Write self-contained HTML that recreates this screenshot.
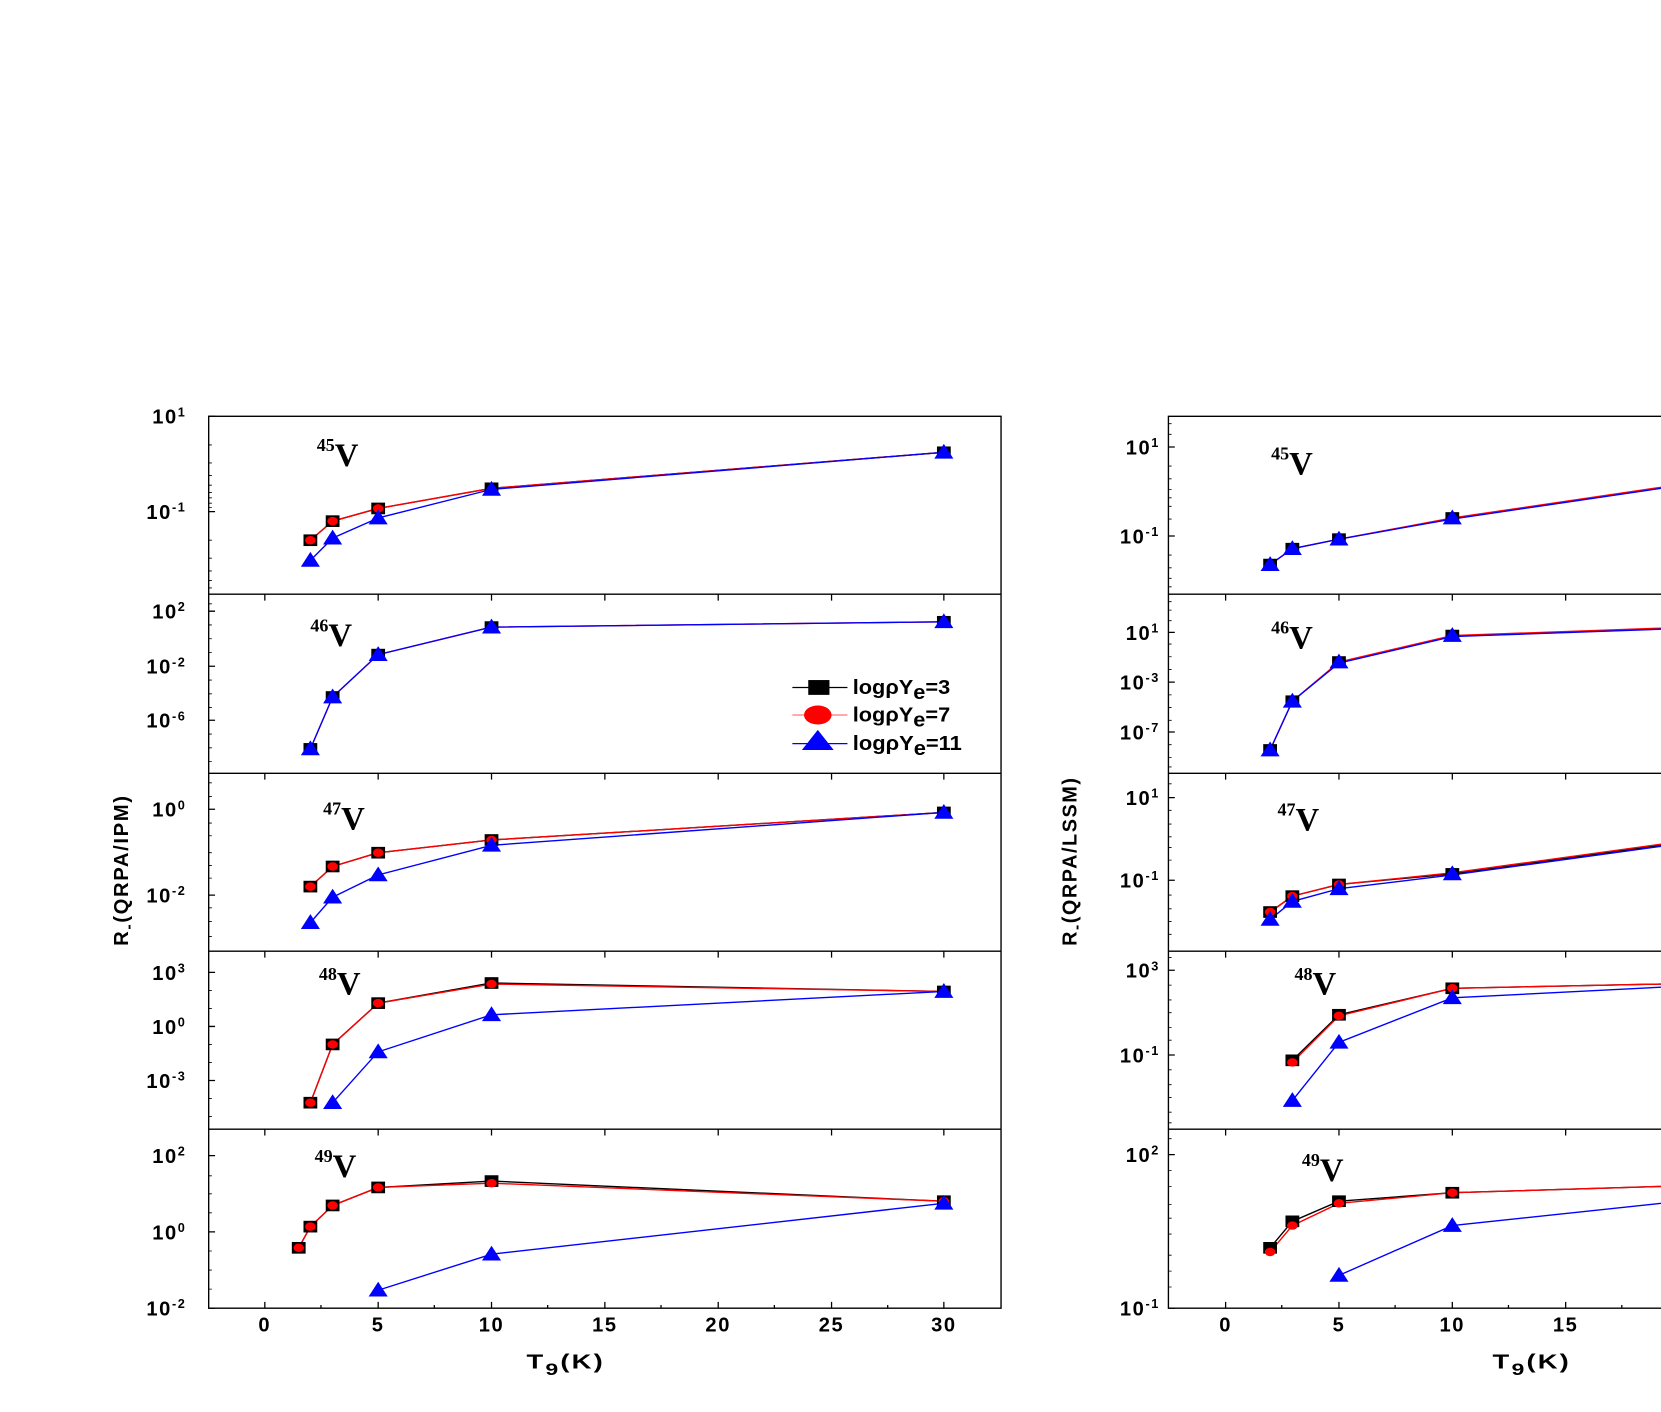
<!DOCTYPE html>
<html><head><meta charset="utf-8"><style>
html,body{margin:0;padding:0;background:#fff;}
svg{display:block}
.tk{font-family:"Liberation Sans",sans-serif;font-weight:bold;font-size:19px;fill:#000;letter-spacing:1.5px}
.nu{font-family:"Liberation Serif",serif;font-weight:bold;fill:#000}
</style></head><body>
<svg width="1661" height="1412" viewBox="0 0 1568 1333" preserveAspectRatio="none" xmlns="http://www.w3.org/2000/svg">
<defs>
<rect id="sq" x="-6.5" y="-5.5" width="13" height="11" fill="#000"/>
<ellipse id="ci" rx="5" ry="4" fill="#f00"/>
<polygon id="tr" points="0,-8 9,6 -9,6" fill="#00f"/>
</defs>
<rect width="1568" height="1333" fill="#fff"/>

<g stroke="#000" stroke-width="1.3" fill="none">
<rect x="197" y="393" width="748" height="842"/>
<line x1="197" y1="561" x2="945" y2="561"/>
<line x1="197" y1="730" x2="945" y2="730"/>
<line x1="197" y1="898" x2="945" y2="898"/>
<line x1="197" y1="1066" x2="945" y2="1066"/>
</g>
<g stroke="#000" stroke-width="1.2">
<path d="M250 1235v-6M357 1235v-6M464 1235v-6M571 1235v-6M678 1235v-6M785 1235v-6M891 1235v-6
M250 561v6M357 561v6M464 561v6M571 561v6M678 561v6M785 561v6M891 561v6
M250 730v6M357 730v6M464 730v6M571 730v6M678 730v6M785 730v6M891 730v6
M250 898v6M357 898v6M464 898v6M571 898v6M678 898v6M785 898v6M891 898v6
M250 1066v6M357 1066v6M464 1066v6M571 1066v6M678 1066v6M785 1066v6M891 1066v6
M303 1235v-3M410 1235v-3M517 1235v-3M624 1235v-3M731 1235v-3M838 1235v-3"/>
<path d="M197 393h6M197 483h6M197 577h6M197 629h6M197 680h6M197 764h6M197 845h6M197 918h6M197 969h6M197 1020h6M197 1091h6M197 1163h6M197 1235h6"/>
<path stroke-width="0.8" d="M197 420h3M197 437h3M197 449h3M197 458h3M197 465h3M197 470h3M197 475h3M197 479h3M197 510h3M197 527h3M197 539h3M197 548h3M197 555h3
M197 570h3M197 590h3M197 603h3M197 616h3M197 642h3M197 655h3M197 668h3M197 693h3M197 706h3M197 719h3
M197 739h3M197 752h3M197 777h3M197 789h3M197 805h3M197 817h3M197 829h3M197 857h3M197 870h3M197 884h3
M197 935h3M197 952h3M197 986h3M197 1003h3M197 1037h3M197 1054h3
M197 1110h3M197 1127h3M197 1145h3M197 1181h3M197 1199h3M197 1217h3"/>
</g>
<g class="tk" text-anchor="end">
<text x="176" y="400">10<tspan dy="-7" font-size="12">1</tspan></text>
<text x="176" y="490">10<tspan dy="-7" font-size="12">-1</tspan></text>
<text x="176" y="584">10<tspan dy="-7" font-size="12">2</tspan></text>
<text x="176" y="636">10<tspan dy="-7" font-size="12">-2</tspan></text>
<text x="176" y="687">10<tspan dy="-7" font-size="12">-6</tspan></text>
<text x="176" y="771">10<tspan dy="-7" font-size="12">0</tspan></text>
<text x="176" y="852">10<tspan dy="-7" font-size="12">-2</tspan></text>
<text x="176" y="925">10<tspan dy="-7" font-size="12">3</tspan></text>
<text x="176" y="976">10<tspan dy="-7" font-size="12">0</tspan></text>
<text x="176" y="1027">10<tspan dy="-7" font-size="12">-3</tspan></text>
<text x="176" y="1098">10<tspan dy="-7" font-size="12">2</tspan></text>
<text x="176" y="1170">10<tspan dy="-7" font-size="12">0</tspan></text>
<text x="176" y="1242">10<tspan dy="-7" font-size="12">-2</tspan></text>
</g>
<g class="tk" text-anchor="middle">
<text x="250" y="1257">0</text><text x="357" y="1257">5</text><text x="464" y="1257">10</text>
<text x="571" y="1257">15</text><text x="678" y="1257">20</text><text x="785" y="1257">25</text><text x="891" y="1257">30</text>
</g>
<text x="497" y="1292" class="tk" font-size="26" textLength="74" lengthAdjust="spacingAndGlyphs">T<tspan font-size="16" dy="6">9</tspan><tspan dy="-6">(K)</tspan></text>
<text transform="translate(121,893) rotate(-90)" class="tk" font-size="25" textLength="143" lengthAdjust="spacingAndGlyphs">R<tspan font-size="15" dy="5">-</tspan><tspan dy="-5">(QRPA/IPM)</tspan></text>

<g class="nu" font-size="31">
<text x="299" y="440"><tspan font-size="17" dy="-14">45</tspan><tspan dy="14">V</tspan></text>
<text x="293" y="610"><tspan font-size="17" dy="-14">46</tspan><tspan dy="14">V</tspan></text>
<text x="305" y="783"><tspan font-size="17" dy="-14">47</tspan><tspan dy="14">V</tspan></text>
<text x="301" y="939"><tspan font-size="17" dy="-14">48</tspan><tspan dy="14">V</tspan></text>
<text x="297" y="1111"><tspan font-size="17" dy="-14">49</tspan><tspan dy="14">V</tspan></text>
</g>

<g fill="none" stroke-width="1.3">
<polyline stroke="#000" points="293,510 314,492 357,480 464,461 891,427"/>
<polyline stroke="#f00" points="293,510 314,492 357,480 464,461 891,427"/>
<polyline stroke="#00f" points="293,529 314,508 357,489 464,462 891,427"/>
<polyline stroke="#f00" points="293,707 314,658 357,618 464,592 891,587"/>
<polyline stroke="#00f" points="293,707 314,658 357,618 464,592 891,587"/>
<polyline stroke="#000" points="293,837 314,818 357,805 464,793 891,767"/>
<polyline stroke="#f00" points="293,837 314,818 357,805 464,793 891,767"/>
<polyline stroke="#00f" points="293,871 314,847 357,826 464,798 891,767"/>
<polyline stroke="#000" points="293,1041 314,986 357,947 464,928 891,936"/>
<polyline stroke="#f00" points="293,1041 314,986 357,947 464,929 891,936"/>
<polyline stroke="#00f" points="314,1041 357,993 464,958 891,936"/>
<polyline stroke="#000" points="282,1178 293,1158 314,1138 357,1121 464,1115 891,1134"/>
<polyline stroke="#f00" points="282,1178 293,1158 314,1138 357,1121 464,1117 891,1134"/>
<polyline stroke="#00f" points="357,1218 464,1184 891,1136"/>
</g>
<g>
<use href="#sq" x="293" y="510"/><use href="#ci" x="293" y="510"/>
<use href="#sq" x="314" y="492"/><use href="#ci" x="314" y="492"/>
<use href="#sq" x="357" y="480"/><use href="#ci" x="357" y="480"/>
<use href="#sq" x="464" y="461"/><use href="#tr" x="464" y="462"/>
<use href="#sq" x="891" y="427"/><use href="#tr" x="891" y="427"/>
<use href="#tr" x="293" y="529"/><use href="#tr" x="314" y="508"/><use href="#tr" x="357" y="489"/>
<use href="#sq" x="293" y="707"/><use href="#tr" x="293" y="707"/>
<use href="#sq" x="314" y="658"/><use href="#tr" x="314" y="658"/>
<use href="#sq" x="357" y="618"/><use href="#tr" x="357" y="618"/>
<use href="#sq" x="464" y="592"/><use href="#tr" x="464" y="592"/>
<use href="#sq" x="891" y="587"/><use href="#tr" x="891" y="587"/>
<use href="#sq" x="293" y="837"/><use href="#ci" x="293" y="837"/>
<use href="#sq" x="314" y="818"/><use href="#ci" x="314" y="818"/>
<use href="#sq" x="357" y="805"/><use href="#ci" x="357" y="805"/>
<use href="#sq" x="464" y="793"/><use href="#ci" x="464" y="793"/>
<use href="#sq" x="891" y="767"/><use href="#tr" x="891" y="767"/>
<use href="#tr" x="293" y="871"/><use href="#tr" x="314" y="847"/><use href="#tr" x="357" y="826"/><use href="#tr" x="464" y="798"/>
<use href="#sq" x="293" y="1041"/><use href="#ci" x="293" y="1041"/>
<use href="#sq" x="314" y="986"/><use href="#ci" x="314" y="986"/>
<use href="#sq" x="357" y="947"/><use href="#ci" x="357" y="947"/>
<use href="#sq" x="464" y="928"/><use href="#ci" x="464" y="929"/>
<use href="#sq" x="891" y="936"/><use href="#tr" x="891" y="936"/>
<use href="#tr" x="314" y="1041"/><use href="#tr" x="357" y="993"/><use href="#tr" x="464" y="958"/>
<use href="#sq" x="282" y="1178"/><use href="#ci" x="282" y="1178"/>
<use href="#sq" x="293" y="1158"/><use href="#ci" x="293" y="1158"/>
<use href="#sq" x="314" y="1138"/><use href="#ci" x="314" y="1138"/>
<use href="#sq" x="357" y="1121"/><use href="#ci" x="357" y="1121"/>
<use href="#sq" x="464" y="1115"/><use href="#ci" x="464" y="1117"/>
<use href="#sq" x="891" y="1134"/><use href="#ci" x="891" y="1134"/>
<use href="#tr" x="357" y="1218"/><use href="#tr" x="464" y="1184"/><use href="#tr" x="891" y="1136"/>
</g>

<g stroke-width="1.2">
<line x1="748" y1="649" x2="800" y2="649" stroke="#000"/>
<rect x="763" y="642" width="20" height="14" fill="#000"/>
<line x1="748" y1="675" x2="800" y2="675" stroke="#f77"/>
<ellipse cx="772" cy="675" rx="13" ry="9" fill="#f00"/>
<line x1="748" y1="702" x2="800" y2="702" stroke="#00f"/>
<polygon points="772,689 787,708 757,708" fill="#00f"/>
</g>
<g class="tk" font-size="17" style="letter-spacing:0">
<text x="805" y="655" textLength="92" lengthAdjust="spacingAndGlyphs">logρY<tspan dy="5">e</tspan><tspan dy="-5">=3</tspan></text>
<text x="805" y="681" textLength="92" lengthAdjust="spacingAndGlyphs">logρY<tspan dy="5">e</tspan><tspan dy="-5">=7</tspan></text>
<text x="805" y="708" textLength="103" lengthAdjust="spacingAndGlyphs">logρY<tspan dy="5">e</tspan><tspan dy="-5">=11</tspan></text>
</g>

<g stroke="#000" stroke-width="1.3" fill="none">
<path d="M1568 393H1103V1235H1568"/>
<line x1="1103" y1="561" x2="1568" y2="561"/>
<line x1="1103" y1="730" x2="1568" y2="730"/>
<line x1="1103" y1="898" x2="1568" y2="898"/>
<line x1="1103" y1="1066" x2="1568" y2="1066"/>
</g>
<g stroke="#000" stroke-width="1.2">
<path d="M1157 1235v-6M1264 1235v-6M1371 1235v-6M1478 1235v-6
M1157 561v6M1264 561v6M1371 561v6M1478 561v6
M1157 730v6M1264 730v6M1371 730v6M1478 730v6
M1157 898v6M1264 898v6M1371 898v6M1478 898v6
M1157 1066v6M1264 1066v6M1371 1066v6M1478 1066v6
M1210 1235v-3M1317 1235v-3M1424 1235v-3M1531 1235v-3"/>
<path d="M1103 422h6M1103 506h6M1103 597h6M1103 644h6M1103 691h6M1103 753h6M1103 831h6M1103 916h6M1103 996h6M1103 1090h6M1103 1235h6"/>
<path stroke-width="0.8" d="M1103 400h3M1103 410h3M1103 440h3M1103 452h3M1103 462h3M1103 470h3M1103 478h3M1103 490h3M1103 524h3M1103 536h3M1103 546h3M1103 554h3
M1103 568h3M1103 576h3M1103 586h3M1103 608h3M1103 620h3M1103 632h3M1103 656h3M1103 668h3M1103 680h3M1103 703h3M1103 715h3M1103 724h3
M1103 740h3M1103 765h3M1103 778h3M1103 790h3M1103 800h3M1103 812h3M1103 845h3M1103 858h3M1103 870h3M1103 882h3
M1103 904h3M1103 930h3M1103 944h3M1103 956h3M1103 970h3M1103 982h3M1103 1010h3M1103 1024h3M1103 1036h3M1103 1050h3M1103 1060h3
M1103 1075h3M1103 1105h3M1103 1120h3M1103 1137h3M1103 1150h3M1103 1165h3M1103 1185h3M1103 1200h3M1103 1215h3"/>
</g>
<g class="tk" text-anchor="end">
<text x="1095" y="429">10<tspan dy="-7" font-size="12">1</tspan></text>
<text x="1095" y="513">10<tspan dy="-7" font-size="12">-1</tspan></text>
<text x="1095" y="604">10<tspan dy="-7" font-size="12">1</tspan></text>
<text x="1095" y="651">10<tspan dy="-7" font-size="12">-3</tspan></text>
<text x="1095" y="698">10<tspan dy="-7" font-size="12">-7</tspan></text>
<text x="1095" y="760">10<tspan dy="-7" font-size="12">1</tspan></text>
<text x="1095" y="838">10<tspan dy="-7" font-size="12">-1</tspan></text>
<text x="1095" y="923">10<tspan dy="-7" font-size="12">3</tspan></text>
<text x="1095" y="1003">10<tspan dy="-7" font-size="12">-1</tspan></text>
<text x="1095" y="1097">10<tspan dy="-7" font-size="12">2</tspan></text>
<text x="1095" y="1242">10<tspan dy="-7" font-size="12">-1</tspan></text>
</g>
<g class="tk" text-anchor="middle">
<text x="1157" y="1257">0</text><text x="1264" y="1257">5</text><text x="1371" y="1257">10</text><text x="1478" y="1257">15</text>
</g>
<text x="1409" y="1292" class="tk" font-size="26" textLength="74" lengthAdjust="spacingAndGlyphs">T<tspan font-size="16" dy="6">9</tspan><tspan dy="-6">(K)</tspan></text>
<text transform="translate(1016,893) rotate(-90)" class="tk" font-size="25" textLength="160" lengthAdjust="spacingAndGlyphs">R<tspan font-size="15" dy="5">-</tspan><tspan dy="-5">(QRPA/LSSM)</tspan></text>

<g class="nu" font-size="31">
<text x="1200" y="448"><tspan font-size="17" dy="-14">45</tspan><tspan dy="14">V</tspan></text>
<text x="1200" y="612"><tspan font-size="17" dy="-14">46</tspan><tspan dy="14">V</tspan></text>
<text x="1206" y="784"><tspan font-size="17" dy="-14">47</tspan><tspan dy="14">V</tspan></text>
<text x="1222" y="939"><tspan font-size="17" dy="-14">48</tspan><tspan dy="14">V</tspan></text>
<text x="1229" y="1115"><tspan font-size="17" dy="-14">49</tspan><tspan dy="14">V</tspan></text>
</g>

<g fill="none" stroke-width="1.3">
<polyline stroke="#f00" points="1199,533 1220,518 1264,509 1371,489 1568,460"/>
<polyline stroke="#00f" points="1199,533 1220,518 1264,509 1371,490 1568,461"/>
<polyline stroke="#f00" points="1199,708 1220,662 1264,625 1371,600 1568,593"/>
<polyline stroke="#00f" points="1199,708 1220,662 1264,626 1371,601 1568,594"/>
<polyline stroke="#000" points="1199,861 1220,846 1264,835 1371,825 1568,798"/>
<polyline stroke="#f00" points="1199,861 1220,846 1264,835 1371,824 1568,797"/>
<polyline stroke="#00f" points="1199,868 1220,851 1264,839 1371,826 1568,799"/>
<polyline stroke="#000" points="1220,1001 1264,958 1371,933 1568,929"/>
<polyline stroke="#f00" points="1220,1003 1264,959 1371,933 1568,929"/>
<polyline stroke="#00f" points="1220,1039 1264,984 1371,942 1568,932"/>
<polyline stroke="#000" points="1199,1178 1220,1153 1264,1134 1371,1126 1568,1120"/>
<polyline stroke="#f00" points="1199,1182 1220,1157 1264,1136 1371,1126 1568,1120"/>
<polyline stroke="#00f" points="1264,1204 1371,1157 1568,1136"/>
</g>
<g>
<use href="#sq" x="1199" y="533"/><use href="#tr" x="1199" y="533"/>
<use href="#sq" x="1220" y="518"/><use href="#tr" x="1220" y="518"/>
<use href="#sq" x="1264" y="509"/><use href="#tr" x="1264" y="509"/>
<use href="#sq" x="1371" y="489"/><use href="#tr" x="1371" y="489"/>
<use href="#sq" x="1199" y="708"/><use href="#tr" x="1199" y="708"/>
<use href="#sq" x="1220" y="662"/><use href="#tr" x="1220" y="662"/>
<use href="#sq" x="1264" y="625"/><use href="#tr" x="1264" y="625"/>
<use href="#sq" x="1371" y="600"/><use href="#tr" x="1371" y="600"/>
<use href="#sq" x="1199" y="861"/><use href="#ci" x="1199" y="861"/>
<use href="#sq" x="1220" y="846"/><use href="#ci" x="1220" y="846"/>
<use href="#sq" x="1264" y="835"/><use href="#ci" x="1264" y="835"/>
<use href="#sq" x="1371" y="825"/><use href="#tr" x="1371" y="825"/>
<use href="#tr" x="1199" y="868"/><use href="#tr" x="1220" y="851"/><use href="#tr" x="1264" y="839"/>
<use href="#sq" x="1220" y="1001"/><use href="#ci" x="1220" y="1003"/>
<use href="#sq" x="1264" y="958"/><use href="#ci" x="1264" y="959"/>
<use href="#sq" x="1371" y="933"/><use href="#ci" x="1371" y="933"/>
<use href="#tr" x="1220" y="1039"/><use href="#tr" x="1264" y="984"/><use href="#tr" x="1371" y="942"/>
<use href="#sq" x="1199" y="1178"/><use href="#ci" x="1199" y="1182"/>
<use href="#sq" x="1220" y="1153"/><use href="#ci" x="1220" y="1157"/>
<use href="#sq" x="1264" y="1134"/><use href="#ci" x="1264" y="1136"/>
<use href="#sq" x="1371" y="1126"/><use href="#ci" x="1371" y="1126"/>
<use href="#tr" x="1264" y="1204"/><use href="#tr" x="1371" y="1157"/>
</g>
</svg>
</body></html>
